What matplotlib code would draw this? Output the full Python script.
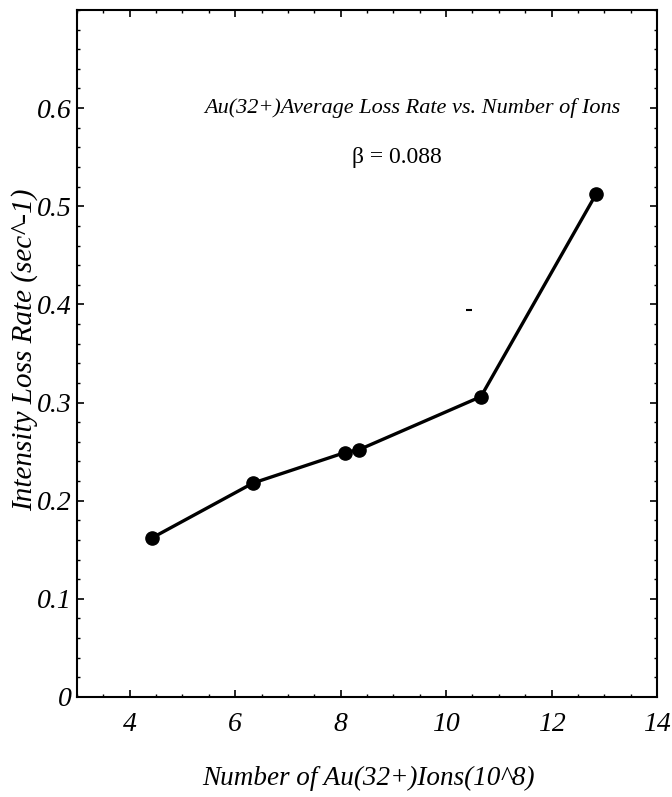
import matplotlib
matplotlib.use("Agg")
import matplotlib.pyplot as plt
from matplotlib.ticker import MultipleLocator

# donnees
ions = [4.42, 6.34, 8.08, 8.35, 10.66, 12.84]
taux = [0.162, 0.218, 0.249, 0.252, 0.306, 0.512]
x_ticks = [4, 6, 8, 10, 12, 14]
y_ticks = [0, 0.1, 0.2, 0.3, 0.4, 0.5, 0.6]
y_labels = ["0", "0.1", "0.2", "0.3", "0.4", "0.5", "0.6"]

plt.rcParams['font.family'] = ['Liberation Serif', 'DejaVu Serif']

fig = plt.figure(figsize=(6.72, 7.97), dpi=100)
ax = fig.add_axes([0.1146, 0.1255, 0.8631, 0.862])

ax.plot(ions, taux, color='black', linewidth=2.4, marker='o', markersize=9.5)
# petit point parasite du scan
ax.plot([10.43], [0.394], marker='_', color='black', markersize=4, markeredgewidth=1.5)

ax.set_xlim(3, 14)
ax.set_ylim(0, 0.7)
ax.set_xticks(x_ticks)
ax.set_xticklabels([str(t) for t in x_ticks], fontstyle='italic', fontsize=20)
ax.set_yticks(y_ticks)
ax.set_yticklabels(y_labels, fontstyle='italic', fontsize=20)
ax.yaxis.set_minor_locator(MultipleLocator(0.02))
ax.xaxis.set_minor_locator(MultipleLocator(0.5))
ax.tick_params(which='major', direction='in', length=5, width=1.2, top=True, right=True)
ax.tick_params(which='minor', direction='in', length=2.5, width=1, top=True, right=True)
ax.tick_params(axis='x', pad=11)
ax.tick_params(axis='y', pad=4)
for s in ax.spines.values():
    s.set_linewidth(1.5)

ax.text(9.36, 0.6, "Au(32+)Average Loss Rate vs. Number of Ions", fontstyle='italic',
        fontsize=16, ha='center', va='center')
ax.text(9.06, 0.55, "β = 0.088", fontsize=17, ha='center', va='center')

fig.text(25/672, 1 - 350/797, "Intensity Loss Rate (sec^-1)", rotation=90, fontstyle='italic',
         fontsize=21, ha='center', va='center')
fig.text(368/672, 1 - 778/797, "Number of Au(32+)Ions(10^8)", fontstyle='italic',
         fontsize=19.5, ha='center', va='center')

plt.savefig("out.png", dpi=100)
